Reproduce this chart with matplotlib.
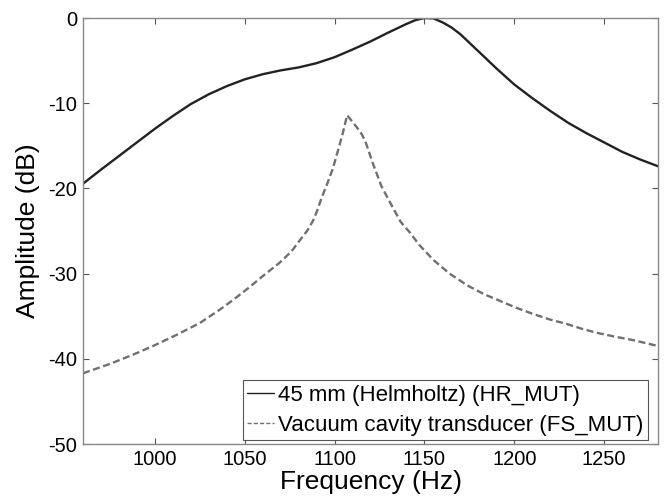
import matplotlib
matplotlib.use("Agg")
import matplotlib.pyplot as plt

plt.rcParams['font.family'] = ['Liberation Sans', 'DejaVu Sans']

# Helmholtz resonator MUT (solid)
hr_freq = [960, 970, 980, 990, 1000, 1010, 1020, 1030, 1040, 1050, 1060, 1070, 1080,
           1090, 1100, 1110, 1120, 1130, 1140, 1145, 1150, 1155, 1160, 1165, 1170, 1175,
           1180, 1190, 1200, 1210, 1220, 1230, 1240, 1250, 1260, 1270, 1280]
hr_db = [-19.45, -17.8, -16.2, -14.6, -13.0, -11.5, -10.1, -8.95, -8.0, -7.2, -6.6, -6.15, -5.8,
         -5.3, -4.6, -3.7, -2.75, -1.7, -0.7, -0.25, 0.0, -0.05, -0.5, -1.1, -1.9, -2.9,
         -3.9, -5.9, -7.8, -9.4, -10.9, -12.3, -13.5, -14.6, -15.7, -16.6, -17.4]

# Vacuum cavity transducer FS_MUT (dashed)
fs_freq = [960, 975, 988, 1000, 1012, 1025, 1035, 1043.5, 1052, 1060, 1069, 1076, 1081,
           1085, 1088, 1090, 1093, 1096, 1099, 1102, 1104.6, 1107,
           1110, 1113, 1115, 1117, 1119, 1121, 1123, 1126, 1130, 1136.7, 1142, 1147,
           1155, 1164, 1174, 1183, 1192, 1201, 1210, 1220, 1229, 1238, 1247, 1256,
           1266, 1280]
fs_db = [-41.7, -40.6, -39.5, -38.4, -37.2, -35.8, -34.4, -33.1, -31.7, -30.3, -28.8, -27.4, -26.0,
         -24.9, -23.8, -22.8, -21.0, -19.4, -17.7, -15.5, -13.5, -11.4,
         -12.2, -13.0, -13.6, -14.4, -15.6, -16.9, -18.0, -19.7, -21.3, -23.9, -25.2, -26.6,
         -28.4, -30.0, -31.4, -32.4, -33.2, -34.0, -34.7, -35.4, -35.9, -36.5, -37.0, -37.4,
         -37.8, -38.5]

xticks = [1000, 1050, 1100, 1150, 1200, 1250]
yticks = [0, -10, -20, -30, -40, -50]

fig = plt.figure(figsize=(6.64, 5.0), dpi=100)
ax = fig.add_axes([83/664, 1 - 444/500, 575/664, 426/500])

ax.plot(hr_freq, hr_db, color='#222222', lw=1.7, solid_capstyle='round',
        solid_joinstyle='round', label='45 mm (Helmholtz) (HR_MUT)')
ax.plot(fs_freq, fs_db, color='#707070', lw=1.7, dashes=(3, 1.5),
        label='Vacuum cavity transducer (FS_MUT)')

ax.set_xlim(960, 1280)
ax.set_ylim(-50, 0)
ax.set_xticks(xticks)
ax.set_yticks(yticks)
ax.set_yticklabels([str(v) for v in yticks])

for s in ax.spines.values():
    s.set_color('#888888')
    s.set_linewidth(1.0)

ax.tick_params(direction='in', length=4, width=0.8, color='#555555',
               top=True, right=True, labelsize=14.5, pad=4)

ax.set_xlabel('Frequency (Hz)', fontsize=19, labelpad=1)
ax.set_ylabel('Amplitude (dB)', fontsize=19, labelpad=6)

leg = ax.legend(loc='lower right', bbox_to_anchor=(0.983, 0.009), borderaxespad=0,
                fontsize=16, fancybox=False, framealpha=1, edgecolor='#555555',
                handlelength=1.2, handletextpad=0.2, borderpad=0.2, labelspacing=0.4)
leg.get_frame().set_linewidth(0.8)
for line in leg.get_lines():
    line.set_linewidth(1.0)

fig.savefig('out.png', dpi=100)
